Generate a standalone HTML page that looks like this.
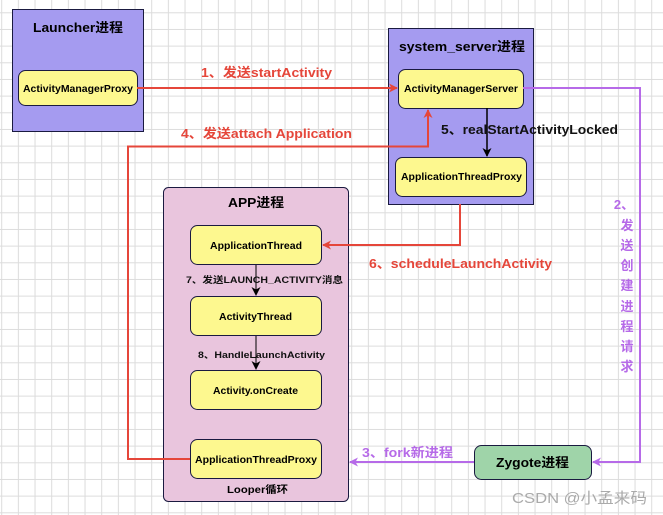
<!DOCTYPE html>
<html><head><meta charset="utf-8"><style>
html,body{margin:0;padding:0;background:#fff;}
svg{display:block;}
text{font-family:"Liberation Sans","Noto Sans CJK SC",sans-serif;font-weight:bold;}
</style></head><body>
<svg width="663" height="515" viewBox="0 0 663 515" xmlns="http://www.w3.org/2000/svg">
<defs>
<pattern id="g" x="1.2" y="12.3" width="16.667" height="16.667" patternUnits="userSpaceOnUse">
<path d="M0 0.5H16.667M0.5 0V16.667" stroke="#dcdcdc" stroke-width="1" fill="none"/>
</pattern>
<marker id="ar" markerWidth="9" markerHeight="9" refX="8" refY="4.5" orient="auto" markerUnits="userSpaceOnUse"><path d="M0,0 L9,4.5 L0,9 L2.5,4.5z" fill="#e5463a"/></marker>
<marker id="ap" markerWidth="9" markerHeight="9" refX="8" refY="4.5" orient="auto" markerUnits="userSpaceOnUse"><path d="M0,0 L9,4.5 L0,9 L2.5,4.5z" fill="#b66ae8"/></marker>
<marker id="ab" markerWidth="9" markerHeight="9" refX="8" refY="4.5" orient="auto" markerUnits="userSpaceOnUse"><path d="M0,0 L9,4.5 L0,9 L2.5,4.5z" fill="#000"/></marker>
</defs>
<rect width="663" height="515" fill="url(#g)"/>

<!-- Launcher -->
<rect x="12.5" y="9.5" width="131" height="122" fill="#a59bf0" stroke="#1a1a40"/>
<text x="33" y="32" font-size="13" textLength="90" lengthAdjust="spacingAndGlyphs">Launcher进程</text>
<rect x="18.5" y="70.5" width="119" height="35" rx="7" fill="#fdf88f" stroke="#1a1a40"/>
<text x="23" y="92" font-size="10" textLength="110" lengthAdjust="spacingAndGlyphs">ActivityManagerProxy</text>

<!-- system_server -->
<rect x="388.5" y="28.5" width="145" height="176" fill="#a59bf0" stroke="#1a1a40"/>
<text x="399" y="51" font-size="13" textLength="126" lengthAdjust="spacingAndGlyphs">system_server进程</text>
<rect x="398.5" y="69.5" width="125" height="39" rx="7" fill="#fdf88f" stroke="#1a1a40"/>
<text x="404" y="92" font-size="10" textLength="114" lengthAdjust="spacingAndGlyphs">ActivityManagerServer</text>
<rect x="395.5" y="157.5" width="131" height="39" rx="7" fill="#fdf88f" stroke="#1a1a40"/>
<text x="401" y="180" font-size="10" textLength="121" lengthAdjust="spacingAndGlyphs">ApplicationThreadProxy</text>

<!-- APP -->
<rect x="163.5" y="187.5" width="185" height="314" rx="5" fill="#e9c5dd" stroke="#1a1a40"/>
<text x="228" y="207" font-size="13" textLength="56" lengthAdjust="spacingAndGlyphs">APP进程</text>
<rect x="190.5" y="225.5" width="131" height="39" rx="7" fill="#fdf88f" stroke="#1a1a40"/>
<text x="210" y="249" font-size="10" textLength="92" lengthAdjust="spacingAndGlyphs">ApplicationThread</text>
<rect x="190.5" y="296.5" width="131" height="39" rx="7" fill="#fdf88f" stroke="#1a1a40"/>
<text x="219" y="320" font-size="10" textLength="73" lengthAdjust="spacingAndGlyphs">ActivityThread</text>
<rect x="190.5" y="370.5" width="131" height="39" rx="7" fill="#fdf88f" stroke="#1a1a40"/>
<text x="213" y="394" font-size="10" textLength="85" lengthAdjust="spacingAndGlyphs">Activity.onCreate</text>
<rect x="190.5" y="439.5" width="131" height="39" rx="7" fill="#fdf88f" stroke="#1a1a40"/>
<text x="195" y="463" font-size="10" textLength="122" lengthAdjust="spacingAndGlyphs">ApplicationThreadProxy</text>
<text x="227" y="493" font-size="10" textLength="61" lengthAdjust="spacingAndGlyphs">Looper循环</text>

<!-- Zygote -->
<rect x="474.5" y="445.5" width="117" height="34" rx="7" fill="#9fd4a9" stroke="#1a1a40"/>
<text x="496" y="467" font-size="13" textLength="73" lengthAdjust="spacingAndGlyphs">Zygote进程</text>

<!-- arrows -->
<path d="M137 88H397" stroke="#e5463a" stroke-width="2" fill="none" marker-end="url(#ar)"/>
<text x="201" y="77" font-size="13" fill="#e5463a" textLength="131" lengthAdjust="spacingAndGlyphs">1、发送startActivity</text>

<path d="M190 459H128V146.5H428V110" stroke="#e5463a" stroke-width="2" fill="none" marker-end="url(#ar)"/>
<text x="181" y="138" font-size="13" fill="#e5463a" textLength="171" lengthAdjust="spacingAndGlyphs">4、发送attach Application</text>

<path d="M487 108V156" stroke="#000" stroke-width="1.5" fill="none" marker-end="url(#ab)"/>
<text x="441" y="134" font-size="13" fill="#111" textLength="177" lengthAdjust="spacingAndGlyphs">5、realStartActivityLocked</text>

<path d="M460 204V245H323" stroke="#e5463a" stroke-width="2" fill="none" marker-end="url(#ar)"/>
<text x="369" y="268" font-size="13" fill="#e5463a" textLength="183" lengthAdjust="spacingAndGlyphs">6、scheduleLaunchActivity</text>

<path d="M523 88H640V462H593" stroke="#b66ae8" stroke-width="2" fill="none" marker-end="url(#ap)"/>
<g font-size="13" fill="#b66ae8" text-anchor="middle">
<text x="624" y="209">2、</text>
<text x="627" y="230">发</text><text x="627" y="250">送</text><text x="627" y="270">创</text>
<text x="627" y="290">建</text><text x="627" y="311">进</text><text x="627" y="331">程</text>
<text x="627" y="351">请</text><text x="627" y="371">求</text>
</g>

<path d="M474 462H350" stroke="#b66ae8" stroke-width="2" fill="none" marker-end="url(#ap)"/>
<text x="362" y="457" font-size="13" fill="#b66ae8" textLength="91" lengthAdjust="spacingAndGlyphs">3、fork新进程</text>

<path d="M256 265V295" stroke="#000" stroke-width="1" fill="none" marker-end="url(#ab)"/>
<text x="186" y="283" font-size="9" fill="#111" textLength="157" lengthAdjust="spacingAndGlyphs">7、发送LAUNCH_ACTIVITY消息</text>
<path d="M256 336V369" stroke="#000" stroke-width="1" fill="none" marker-end="url(#ab)"/>
<text x="198" y="358" font-size="9" fill="#111" textLength="127" lengthAdjust="spacingAndGlyphs">8、HandleLaunchActivity</text>

<text x="512" y="503" font-size="15" fill="#aaa" style="font-weight:normal" textLength="135" lengthAdjust="spacingAndGlyphs">CSDN @小孟来码</text>
</svg>
</body></html>
